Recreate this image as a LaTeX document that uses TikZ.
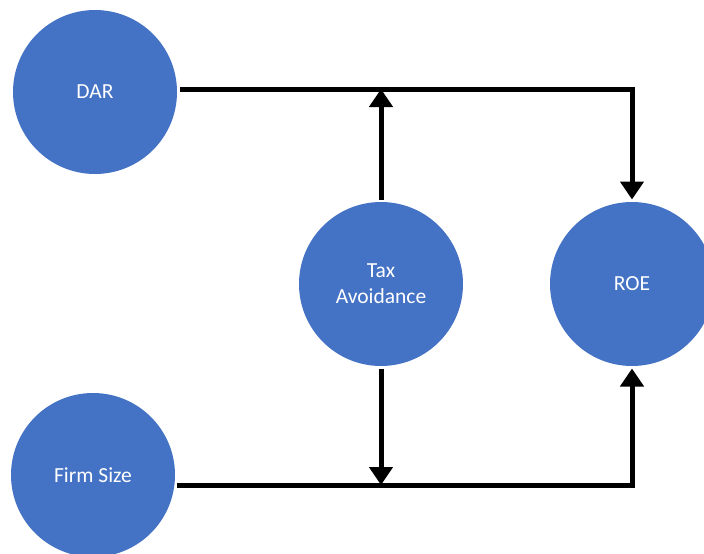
\documentclass[tikz,border=0pt]{standalone}
\usepackage{fontspec}
\setmainfont{Carlito}
\usepackage{xcolor}
\usetikzlibrary{shapes, arrows.meta}
\definecolor{varblue}{HTML}{4472C4}

\begin{document}
\begin{tikzpicture}[x=1pt, y=-1pt, >={Triangle[width=23pt,length=18pt]}, line width=5pt, line join=miter]
            \tikzstyle{var} = [circle, fill=varblue, minimum size=164pt, inner sep=0pt, text=white, align=center, font=\fontsize{21.5}{26}\selectfont]
            \tikzstyle{link} = [draw, black]

            \useasboundingbox (0,0) rectangle (704,554);

            \node[var] (dar) at (95,92) {DAR};
            \node[var] (firm) at (93,475) {Firm Size};
            \node[var] (tax) at (381,284) {Tax\\Avoidance};
            \node[var] (roe) at (632,284) {ROE};

            \coordinate (darout) at ([yshift=3pt]dar.east);
            \coordinate (firmout) at ([yshift=-10pt, xshift=-1pt]firm.east);

            \draw[link, ->] (darout) -| (roe.north);
            \draw[link, ->] (tax.north) -- (tax.north |- darout);
            \draw[link, ->] (firmout) -| (roe.south);
            \draw[link, ->] (tax.south) -- (tax.south |- firmout);
        \end{tikzpicture}
\end{document}
